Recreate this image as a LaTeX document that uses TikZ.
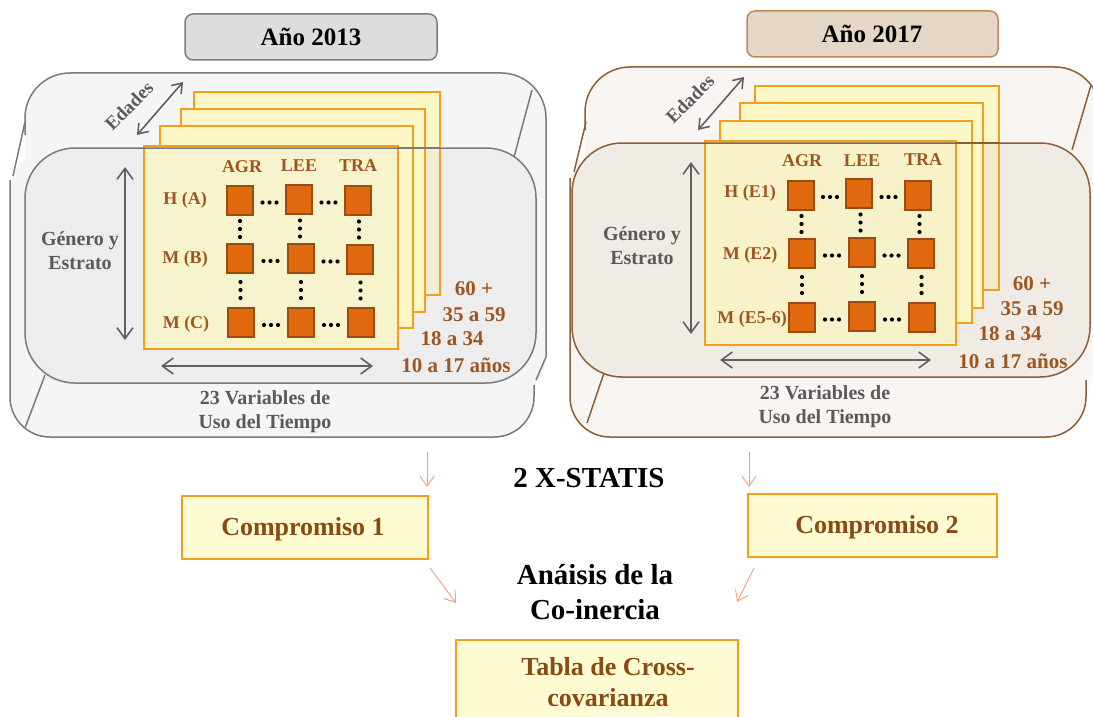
\documentclass[tikz,border=0pt]{standalone}
\usepackage{fontspec}
\setmainfont{Liberation Serif}
\usetikzlibrary{arrows.meta,calc}
\definecolor{gface}{HTML}{F5F5F5}
\definecolor{gline}{HTML}{7A7A7A}
\definecolor{ginner}{HTML}{E2E2E2}
\definecolor{bface}{HTML}{F9F5F2}
\definecolor{bline}{HTML}{8C5F36}
\definecolor{binner}{HTML}{E5DDD3}
\definecolor{frmfill}{HTML}{FCF7C6}
\definecolor{frmline}{HTML}{F59D1C}
\definecolor{sqfill}{HTML}{E0690F}
\definecolor{sqline}{HTML}{9B4C10}
\definecolor{browntxt}{HTML}{9E5620}
\definecolor{darkbrown}{HTML}{8A4A12}
\definecolor{graytxt}{HTML}{5A5A5A}
\definecolor{arrgray}{HTML}{606060}
\definecolor{salmon}{HTML}{F2A27C}
\definecolor{boxfill}{HTML}{FFFBD2}
\definecolor{hdrgfill}{HTML}{DDDDDD}
\definecolor{hdrgline}{HTML}{7F7F7F}
\definecolor{hdrbfill}{HTML}{E6D6C5}
\definecolor{hdrbline}{HTML}{BF8A55}
\newcommand{\hdts}[2]{\foreach \k in {-7,0,7}{\fill ($(#1)!0.5!(#2)+(\k,3)$) circle[radius=2.1pt];}}
\newcommand{\vdts}[2]{\foreach \k in {-8,0,8}{\fill ($(#1)!0.5!(#2)+(0,\k)$) circle[radius=2.1pt];}}
\tikzset{
  hdr/.style={rounded corners=8pt, line width=1.5pt},
  hdrtext/.style={font=\bfseries\fontsize{25}{30}\selectfont, inner sep=0pt},
  frm/.style={draw=frmline, line width=1.6pt},
  sq/.style={draw=sqline, fill=sqfill, line width=2pt, minimum width=26pt, minimum height=29pt, inner sep=0pt},
  lab/.style={font=\bfseries\fontsize{18}{20}\selectfont, text=browntxt, inner sep=0pt},
  gtxt/.style={font=\bfseries\fontsize{20}{24}\selectfont, text=graytxt, inner sep=0pt, align=center},
  age/.style={font=\bfseries\fontsize{21}{24}\selectfont, text=browntxt, inner sep=0pt},
  edad/.style={font=\bfseries\fontsize{19}{22}\selectfont, text=graytxt, inner sep=0pt, rotate=45},
  dbl/.style={draw=arrgray, line width=1.6pt, {Straight Barb[length=11pt,width=16pt]}-{Straight Barb[length=11pt,width=16pt]}},
  dbls/.style={draw=arrgray, line width=1.6pt, {Straight Barb[length=9pt,width=13pt]}-{Straight Barb[length=9pt,width=13pt]}},
  oarr/.style={draw=salmon, line width=0.9pt, -{Straight Barb[length=10pt,width=14pt]}},
  cbox/.style={fill=boxfill, draw=frmline, line width=2pt},
  ctxt/.style={font=\bfseries\fontsize{26}{31}\selectfont, text=darkbrown, inner sep=0pt, align=center},
  btxt/.style={font=\bfseries\fontsize{29}{35}\selectfont, text=black, inner sep=0pt, align=center}
}
\begin{document}
\begin{tikzpicture}[x=1pt,y=-1pt]
\useasboundingbox (0,0) rectangle (1093,717);
\clip (0,0) rectangle (1093,717);
\fill[white] (0,0) rectangle (1093,717);

% ===== headers =====
\draw[hdr, fill=hdrgfill, draw=hdrgline] (185,14) rectangle (437,60);
\node[hdrtext] (h1) at (311,37) {Año 2013};
\draw[hdr, fill=hdrbfill, draw=hdrbline] (747,11) rectangle (998,57);
\node[hdrtext] (h2) at (872,34) {Año 2017};

% ===== left panel =====
\fill[gface, rounded corners=45pt] (25,73) rectangle (546,400);
\draw[gline, line width=1.5pt, rounded corners=45pt] (25,135) -- (25,73) -- (546,73) -- (546,357);
\fill[gface, rounded corners=40pt] (10,150) rectangle (534,437);
\draw[gline, line width=1.5pt, rounded corners=40pt] (10,180) -- (10,437) -- (534,437) -- (534,385);
\draw[gline, line width=1.5pt] (25,122) -- (13,176);
\draw[gline, line width=1.5pt] (45,375) -- (25,428);
\draw[gline, line width=1.5pt] (532,90) -- (514,157);
\draw[gline, line width=1.5pt] (546,357) -- (536,380);
% frames fill
\fill[frmfill] (194,92) rectangle (440,295);
\fill[frmfill] (181,109) rectangle (425,312);
\fill[frmfill] (160,126) rectangle (413,328);
\fill[frmfill] (144,146) rectangle (398,349);
% inner
\fill[ginner, fill opacity=0.4, rounded corners=50pt] (25,148) rectangle (536,383);
\draw[frm] (194,92) rectangle (440,295);
\draw[frm, fill=frmfill] (181,109) rectangle (425,312);
\draw[frm, fill=frmfill] (160,126) rectangle (413,328);
\draw[frm, fill=frmfill!80!ginner] (144,146) rectangle (398,349);
\draw[gline, line width=1.5pt, rounded corners=50pt] (25,148) rectangle (536,383);
\draw[gline, line width=1.5pt] (398,148) -- (440,148);

% squares
\node[sq] (l11) at (240,200) {};
\node[sq] (l12) at (299,199) {};
\node[sq] (l13) at (358,200) {};
\node[sq] (l21) at (240,258) {};
\node[sq] (l22) at (301,258) {};
\node[sq] (l23) at (360,259) {};
\node[sq] (l31) at (241,322) {};
\node[sq] (l32) at (301,322) {};
\node[sq] (l33) at (361,322) {};
\hdts{l11}{l12}\hdts{l12}{l13}
\hdts{l21}{l22}\hdts{l22}{l23}
\hdts{l31}{l32}\hdts{l32}{l33}
\vdts{l11}{l21}\vdts{l12}{l22}\vdts{l13}{l23}
\vdts{l21}{l31}\vdts{l22}{l32}\vdts{l23}{l33}

\node[lab] (lagr) at (242,167) {AGR};
\node[lab] (llee) at (299,166) {LEE};
\node[lab] (ltra) at (358,166) {TRA};
\node[lab] (lra) at (185,200) {H (A)};
\node[lab] (lrb) at (185,259) {M (B)};
\node[lab] (lrc) at (186,324) {M (C)};

\node[age] (la1) at (474,289) {60 +};
\node[age] (la2) at (474,315) {35 a 59};
\node[age] (la3) at (452,339) {18 a 34};
\node[age] (la4) at (456,365) {10 a 17 años};

\node[edad] (led) at (129,106) {Edades};
\node[gtxt] (lge) at (80,251) {Género y\\Estrato};
\node[gtxt] (lvar) at (265,412) {23 Variables de\\Uso del Tiempo};

\coordinate (lvt) at (125,167); \coordinate (lvb) at (125,340);
\coordinate (lhl) at (161,366); \coordinate (lhr) at (373,366);
\coordinate (lel) at (137,135); \coordinate (leu) at (183,82);
\draw[dbl] (lvt) -- (lvb);
\draw[dbl] (lhl) -- (lhr);
\draw[dbls] (lel) -- (leu);

% ===== right panel =====
\fill[bface, rounded corners=45pt] (585,67) rectangle (1100,400);
\draw[bline, line width=1.5pt, rounded corners=45pt] (585,130) -- (585,67) -- (1100,67) -- (1100,380);
\fill[bface, rounded corners=40pt] (570,150) rectangle (1086,437);
\draw[bline, line width=1.5pt, rounded corners=40pt] (570,178) -- (570,437) -- (1086,437) -- (1086,380);
\draw[bline, line width=1.5pt] (586,122) -- (574,172);
\draw[bline, line width=1.5pt] (604,373) -- (587,423);
\draw[bline, line width=1.5pt] (1091,85) -- (1072,150);
\fill[frmfill] (755,86) rectangle (999,290);
\fill[frmfill] (740,103) rectangle (983,308);
\fill[frmfill] (720,121) rectangle (972,323);
\fill[frmfill] (705,141) rectangle (956,345);
\fill[binner, fill opacity=0.4, rounded corners=50pt] (572,143) rectangle (1090,377);
\draw[frm] (755,86) rectangle (999,290);
\draw[frm, fill=frmfill] (740,103) rectangle (983,308);
\draw[frm, fill=frmfill] (720,121) rectangle (972,323);
\draw[frm, fill=frmfill!80!binner] (705,141) rectangle (956,345);
\draw[bline, line width=1.5pt, rounded corners=50pt] (572,143) rectangle (1090,377);
\draw[bline, line width=1.5pt] (956,143) -- (999,143);

\node[sq] (r11) at (801,195) {};
\node[sq] (r12) at (859,193) {};
\node[sq] (r13) at (918,195) {};
\node[sq] (r21) at (802,253) {};
\node[sq] (r22) at (862,252) {};
\node[sq] (r23) at (921,253) {};
\node[sq] (r31) at (802,317) {};
\node[sq] (r32) at (862,316) {};
\node[sq] (r33) at (922,317) {};
\hdts{r11}{r12}\hdts{r12}{r13}
\hdts{r21}{r22}\hdts{r22}{r23}
\hdts{r31}{r32}\hdts{r32}{r33}
\vdts{r11}{r21}\vdts{r12}{r22}\vdts{r13}{r23}
\vdts{r21}{r31}\vdts{r22}{r32}\vdts{r23}{r33}

\node[lab] (ragr) at (802,161) {AGR};
\node[lab] (rlee) at (862,161) {LEE};
\node[lab] (rtra) at (923,160) {TRA};
\node[lab] (rra) at (750,193) {H (E1)};
\node[lab] (rrb) at (750,255) {M (E2)};
\node[lab] (rrc) at (752,319) {M (E5-6)};

\node[age] (ra1) at (1032,284) {60 +};
\node[age] (ra2) at (1032,309) {35 a 59};
\node[age] (ra3) at (1010,334) {18 a 34};
\node[age] (ra4) at (1013,361) {10 a 17 años};

\node[edad] (red) at (690,99) {Edades};
\node[gtxt] (rge) at (642,246) {Género y\\Estrato};
\node[gtxt] (rvar) at (825,407) {23 Variables de\\Uso del Tiempo};

\coordinate (rvt) at (691,162); \coordinate (rvb) at (691,334);
\coordinate (rhl) at (720,360); \coordinate (rhr) at (931,360);
\coordinate (rel) at (698,130); \coordinate (reu) at (744,77);
\draw[dbl] (rvt) -- (rvb);
\draw[dbl] (rhl) -- (rhr);
\draw[dbls] (rel) -- (reu);

% ===== bottom =====
\node[btxt] (xst) at (589,478) {2 X-STATIS};
\node[cbox, minimum width=246pt, minimum height=63pt] (c1) at (305,527.5) {};
\node[ctxt] at (303,529) {Compromiso 1};
\node[cbox, minimum width=249pt, minimum height=63pt] (c2) at (872.5,525.5) {};
\node[ctxt] at (877,527) {Compromiso 2};
\node[btxt] (coin) at (595,592) {Anáisis de la\\Co-inercia};
\node[cbox, minimum width=282pt, minimum height=100pt, anchor=north west] (tb) at (455,639) {};
\node[ctxt] at (608,682) {Tabla de Cross-\\covarianza};

\coordinate (a1s) at (427,452); \coordinate (a1e) at (427,487);
\coordinate (a2s) at (749,452); \coordinate (a2e) at (749,487);
\coordinate (a3s) at (430,568); \coordinate (a3e) at (456,603);
\coordinate (a4s) at (754,568); \coordinate (a4e) at (737,602);
\draw[oarr] (a1s) -- (a1e);
\draw[oarr] (a2s) -- (a2e);
\draw[oarr] (a3s) -- (a3e);
\draw[oarr] (a4s) -- (a4e);
\end{tikzpicture}
\end{document}
